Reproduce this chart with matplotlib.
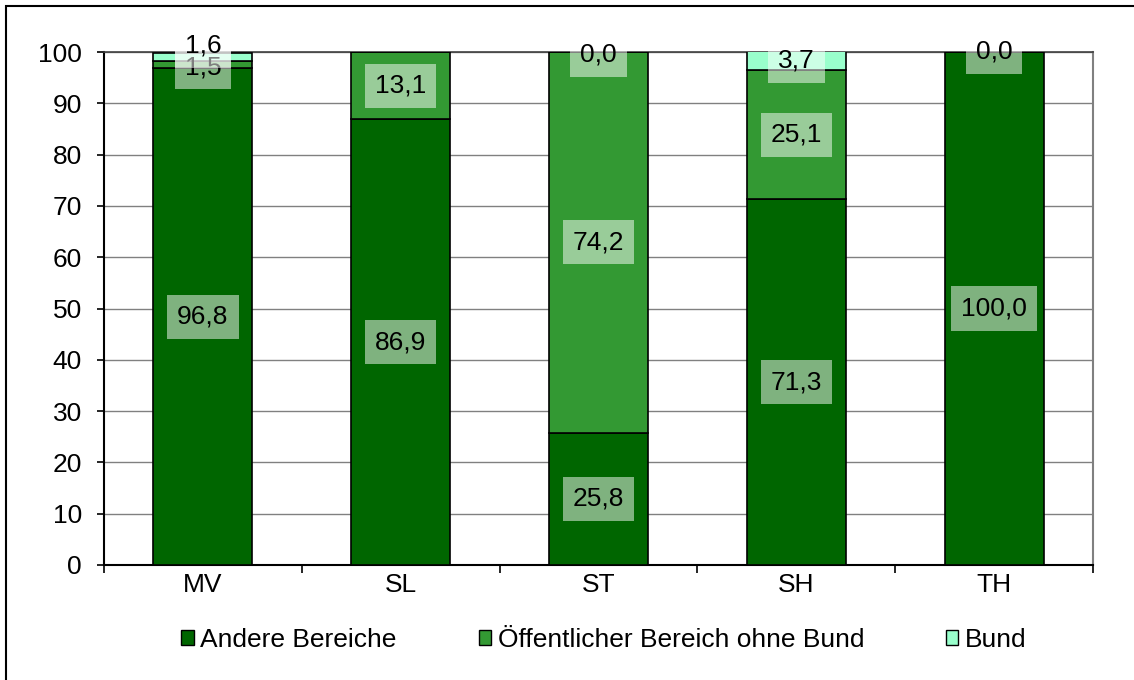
import numpy as np
import matplotlib
matplotlib.use("Agg")
import matplotlib.pyplot as plt
from matplotlib.patches import Rectangle
from matplotlib.ticker import FixedLocator, NullFormatter

plt.rcParams['font.family'] = ['Liberation Sans', 'DejaVu Sans']

# Bundesländer and their shares (percent) per sector
laender = ["MV", "SL", "ST", "SH", "TH"]
andere = [96.8, 86.9, 25.8, 71.3, 100.0]
oeffentlich = [1.5, 13.1, 74.2, 25.1, np.nan]
bund = [1.6, np.nan, 0.0, 3.7, 0.0]

series_names = ["Andere Bereiche", "Öffentlicher Bereich ohne Bund", "Bund"]
colors = ["#006600", "#339933", "#99FFCC"]

# small vertical nudges (points) for labels that would otherwise overlap
label_nudge = {(0, 1): -2, (0, 2): 8, (2, 2): -2, (4, 2): 0}

fig = plt.figure(figsize=(11.34, 6.8), dpi=100)
ax = fig.add_axes([104 / 1134, 1 - 565 / 680, (1093 - 104) / 1134, (565 - 52) / 680])

x = np.arange(len(laender))
bottom = np.zeros(len(laender))
fs = 19

for si, (vals, name, col) in enumerate(zip([andere, oeffentlich, bund], series_names, colors)):
    v = np.array(vals, dtype=float)
    h = np.nan_to_num(v)
    ax.bar(x, h, 0.5, bottom=bottom, color=col, edgecolor="black",
           linewidth=1.2, label=name, zorder=3)
    for i in range(len(laender)):
        if np.isnan(v[i]):
            continue
        yc = bottom[i] + h[i] / 2
        ax.annotate(f"{v[i]:.1f}".replace(".", ","), (x[i], yc),
                    xytext=(0, label_nudge.get((i, si), 0)), textcoords="offset points",
                    ha="center", va="center", fontsize=fs, color="black", zorder=5,
                    bbox=dict(boxstyle="square,pad=0.38", fc="white", ec="none", alpha=0.5))
    bottom += h

ax.set_xlim(-0.5, len(laender) - 0.5)
ax.set_ylim(0, 100)
ax.set_yticks(np.arange(0, 101, 10))
ax.yaxis.grid(True, color="#808080", linewidth=1.0, zorder=0)
ax.set_axisbelow(True)

ax.set_xticks(x)
ax.set_xticklabels(laender, fontsize=fs)
ax.tick_params(axis="x", which="major", length=0, pad=6)
ax.xaxis.set_minor_locator(FixedLocator(np.arange(-0.5, len(laender), 1.0)))
ax.xaxis.set_minor_formatter(NullFormatter())
ax.tick_params(axis="x", which="minor", length=6, width=1.2, direction="out", color="black")
ax.tick_params(axis="y", labelsize=fs, length=5, width=1.2, direction="out", pad=11)

for s in ["left", "bottom"]:
    ax.spines[s].set_color("black")
    ax.spines[s].set_linewidth(1.5)
ax.spines["top"].set_color("#404040")
ax.spines["top"].set_linewidth(1.2)
ax.spines["right"].set_color("#808080")
ax.spines["right"].set_linewidth(1.5)

leg = fig.legend(loc="center", bbox_to_anchor=(604 / 1134, 1 - 640 / 680), ncol=3, frameon=False,
                 fontsize=fs, handlelength=0.47, handleheight=0.47, handletextpad=0.25,
                 columnspacing=3.1)
for hnd in leg.legend_handles:
    hnd.set_edgecolor("black")
    hnd.set_linewidth(1.0)

# outer chart frame
fig.patches.append(Rectangle((6 / 1134, -0.1), 1.2, 1 - 6 / 680 + 0.1, transform=fig.transFigure,
                             fill=False, edgecolor="black", linewidth=1.5, zorder=10))

fig.savefig("out.png", dpi=100)
